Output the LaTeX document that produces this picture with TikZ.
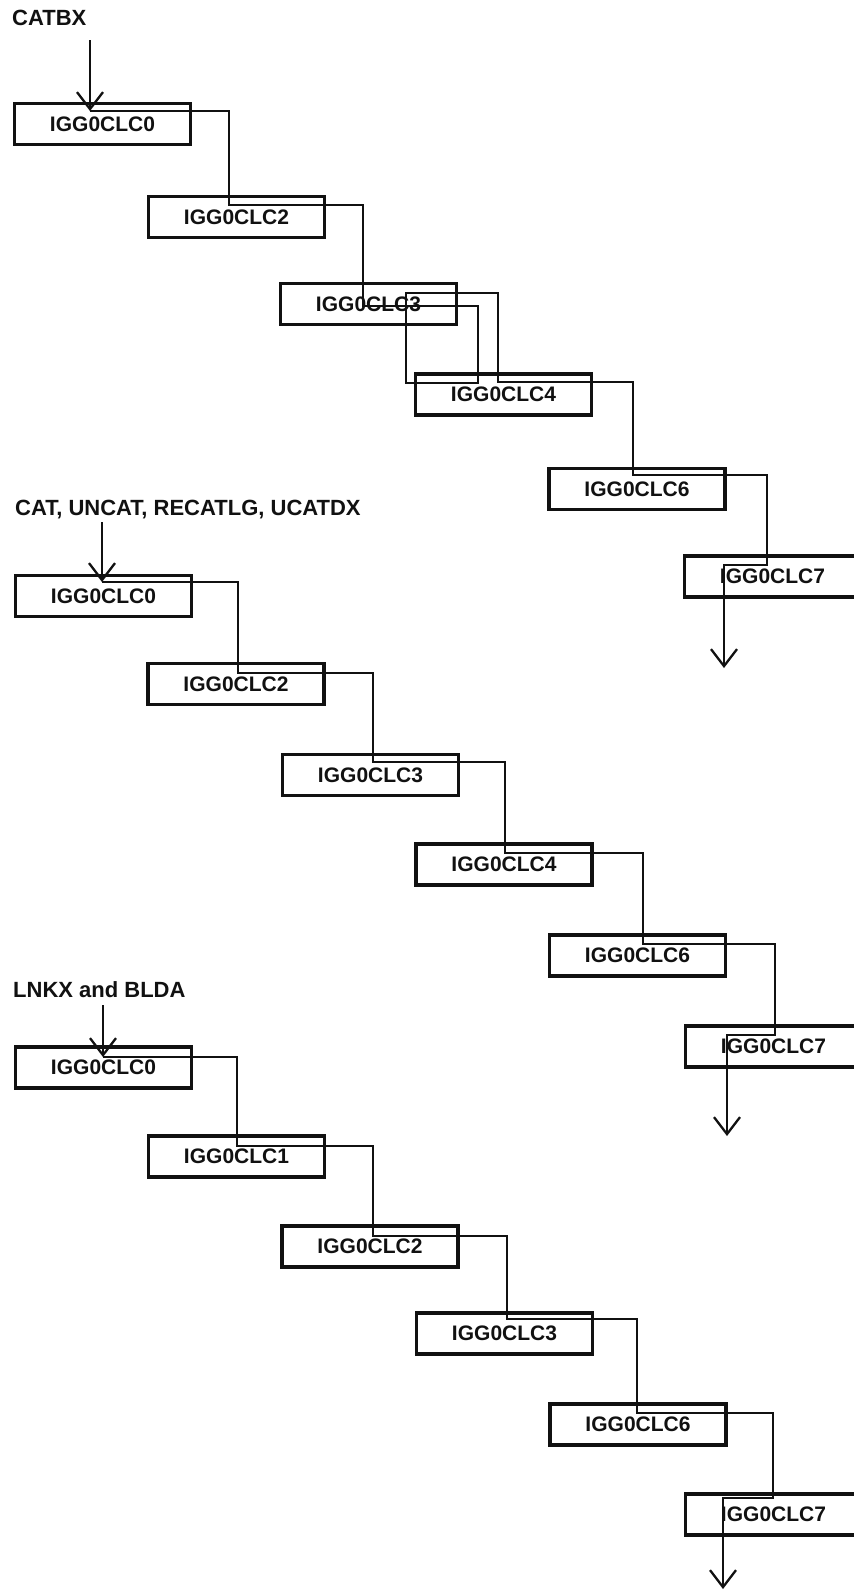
\documentclass[tikz,border=0pt]{standalone}
\usepackage{fontspec}
\setsansfont{Liberation Sans}
\usepackage{tikz}
\usetikzlibrary{arrows.meta}
\definecolor{Ink}{HTML}{111111}
\tikzset{
  box/.style={draw=Ink,line width=3.8pt,minimum width=176pt,minimum height=41pt,inner sep=0pt,
    text=Ink,font=\sffamily\bfseries\fontsize{21}{24}\selectfont},
  link/.style={draw=Ink,line width=2.5pt},
  arrow/.style={link,-{Straight Barb[length=17pt,width=26pt,line width=2.3pt]}},
  title/.style={anchor=base west,inner sep=0pt,text=Ink,font=\sffamily\bfseries\fontsize{22}{25}\selectfont}
}
\begin{document}
\begin{tikzpicture}[x=1pt,y=-1pt]
  \path[use as bounding box,fill=white] (0,0) rectangle (854,1591);
  \clip (0,0) rectangle (854,1591);
  % CATBX
  \node[title] (lab1) at (12,25) {CATBX};
  \foreach \n/\x/\y in {0/102.5/124,2/236.5/217,3/368.5/304,4/503.5/394.5,6/637/489,7/772.5/576.5}
    \node[box] (s1c\n) at (\x,\y) {IGG0CLC\n};
  \coordinate (in1) at (90,40);
  \coordinate (e10) at (90,111);
  \coordinate (e12) at (229,205);
  \coordinate (e13) at (363,306);
  \coordinate (e14) at (478,383);
  \coordinate (r1a) at (406,293);
  \coordinate (r1b) at (498,382);
  \coordinate (e16) at (633,475);
  \coordinate (e17) at (767,565);
  \coordinate (out1) at (724,668);
  \draw[arrow] (in1) -- (e10);
  \draw[arrow] (e10) -| (e12) -| (e13) -| (e14) -| (r1a) -| (r1b) -| (e16) -| (e17) -| (out1);
  % CAT, UNCAT, RECATLG, UCATDX
  \node[title] (lab2) at (15,515) {CAT, UNCAT, RECATLG, UCATDX};
  \foreach \n/\x/\y in {0/103.5/596,2/236/684,3/370.5/775,4/504/864.5,6/637.5/955.5,7/773.5/1046.5}
    \node[box] (s2c\n) at (\x,\y) {IGG0CLC\n};
  \coordinate (in2) at (102,522);
  \coordinate (e20) at (102,582);
  \coordinate (e22) at (238,673);
  \coordinate (e23) at (373,762);
  \coordinate (e24) at (505,853);
  \coordinate (e26) at (643,944);
  \coordinate (e27) at (775,1035);
  \coordinate (out2) at (727,1136);
  \draw[arrow] (in2) -- (e20);
  \draw[arrow] (e20) -| (e22) -| (e23) -| (e24) -| (e26) -| (e27) -| (out2);
  % LNKX and BLDA
  \node[title] (lab3) at (13,997) {LNKX and BLDA};
  \foreach \n/\x/\y in {0/103.5/1067.5,1/236.5/1156.5,2/370/1246.5,3/504.5/1333.5,6/638/1424.5,7/773.5/1514.5}
    \node[box] (s3c\n) at (\x,\y) {IGG0CLC\n};
  \coordinate (in3) at (103,1005);
  \coordinate (e30) at (103,1057);
  \coordinate (e31) at (237,1146);
  \coordinate (e32) at (373,1236);
  \coordinate (e33) at (507,1319);
  \coordinate (e36) at (637,1413);
  \coordinate (e37) at (773,1498);
  \coordinate (out3) at (723,1589);
  \draw[arrow] (in3) -- (e30);
  \draw[arrow] (e30) -| (e31) -| (e32) -| (e33) -| (e36) -| (e37) -| (out3);
\end{tikzpicture}
\end{document}
